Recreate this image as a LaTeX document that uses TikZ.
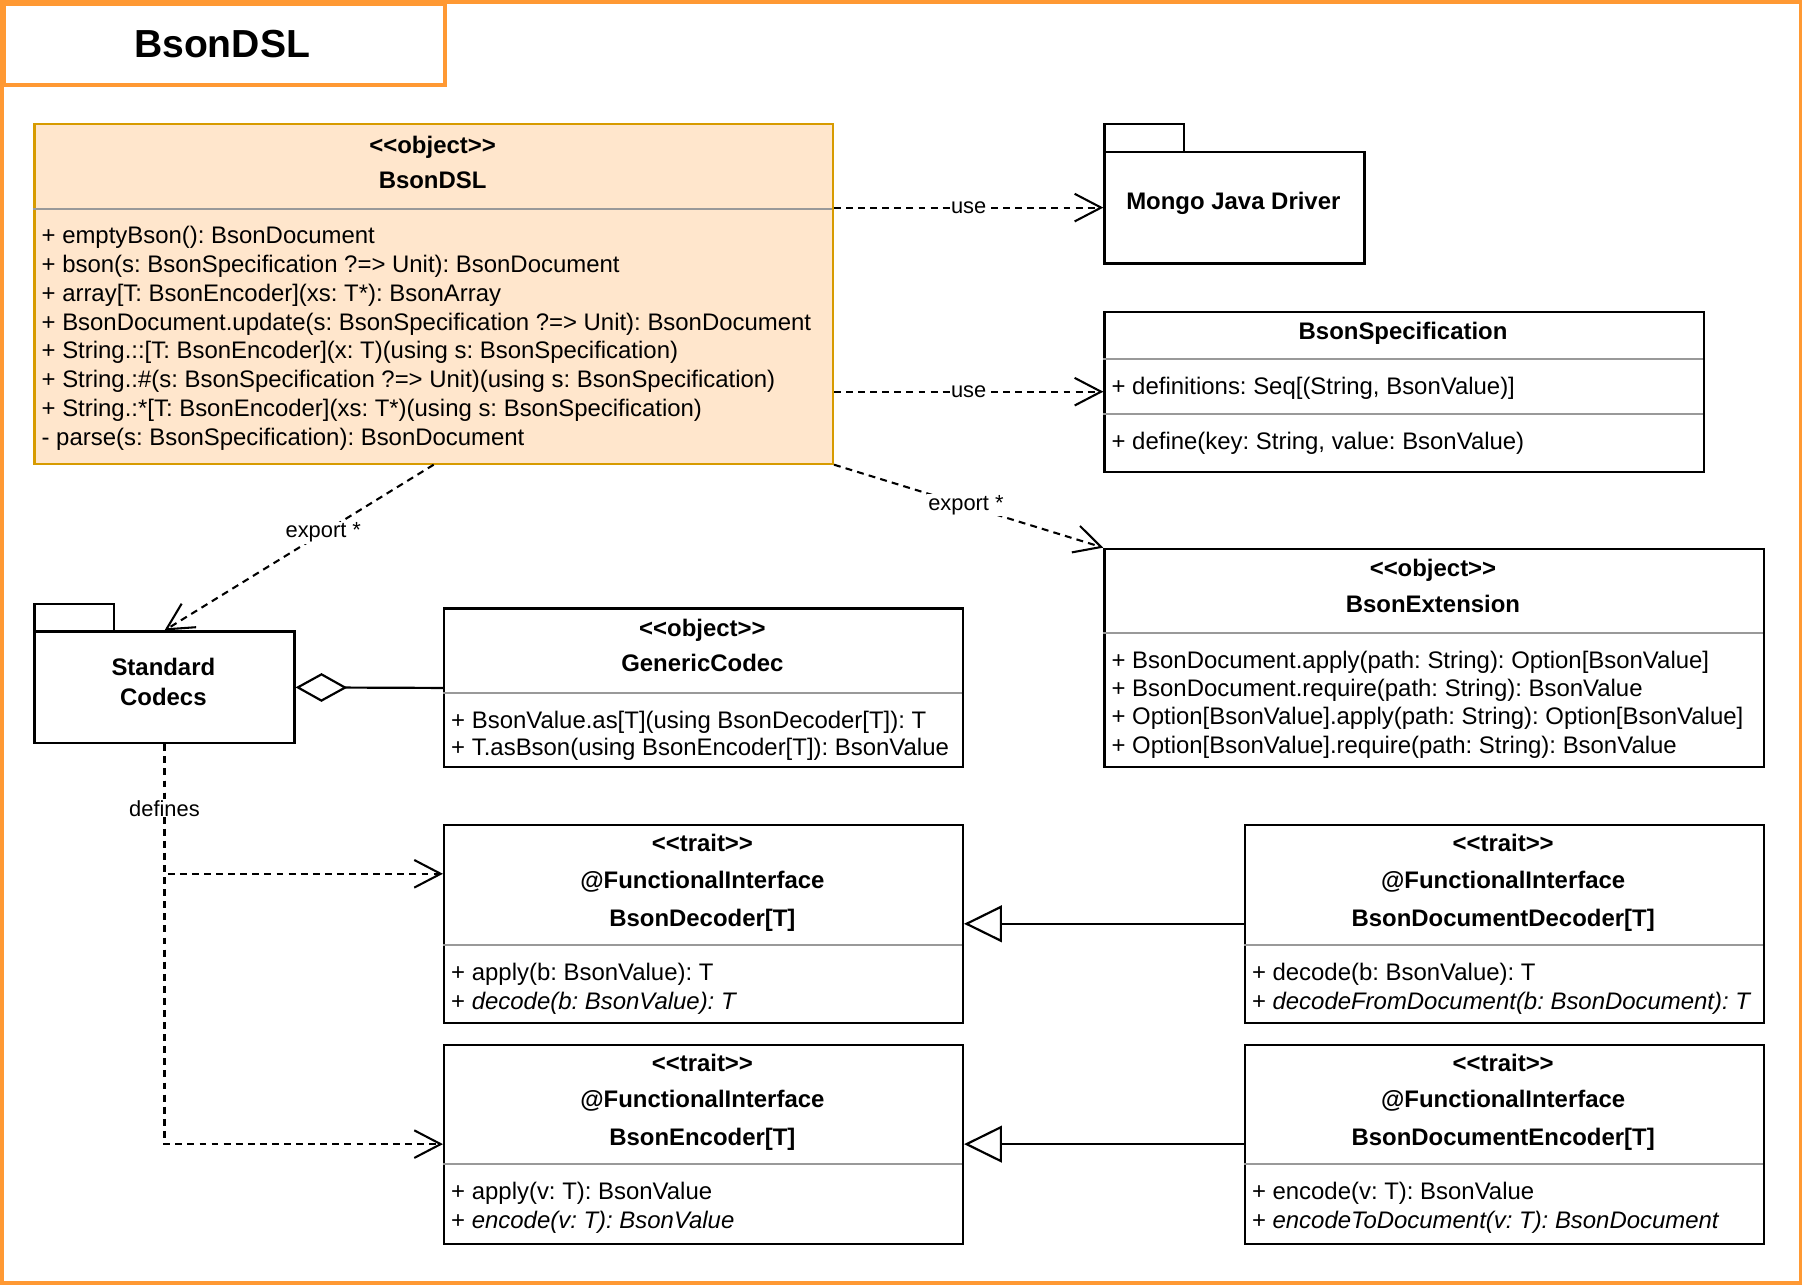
\documentclass[tikz,border=0pt]{standalone}
\usepackage{fontspec}
\setmainfont{Liberation Sans}
\usetikzlibrary{arrows.meta,calc}
\definecolor{frameor}{RGB}{255,153,51}
\definecolor{dslfill}{RGB}{255,230,204}
\definecolor{dslline}{RGB}{215,155,0}
\definecolor{sepgray}{RGB}{153,153,153}
\newcommand{\stlt}{<\kern0pt<}
\newcommand{\stgt}{>\kern0pt>}
\frenchspacing
\begin{document}
\frenchspacing
\begin{tikzpicture}[x=1pt,y=-1pt,
  clsbox/.style={draw=black, line width=1.9pt, fill=white, anchor=north west, inner sep=0pt},
  sepline/.style={draw=sepgray, line width=1.8pt},
  hd/.style={inner sep=0pt, anchor=base, font=\bfseries\fontsize{20.8}{25}\selectfont},
  mt/.style={inner sep=0pt, anchor=base west, font=\fontsize{20.8}{25}\selectfont},
  lbl/.style={fill=white, inner sep=1pt, font=\fontsize{19}{22}\selectfont},
  dep/.style={draw, line width=1.8pt, dash pattern=on 6pt off 4.5pt, -{Straight Barb[length=23pt,width=24pt,line width=1.8pt]}},
  gen/.style={draw, line width=1.9pt, -{Triangle[open,length=33pt,width=32pt,line width=1.9pt]}},
  agg/.style={draw, line width=1.9pt, {Diamond[open,length=45pt,width=25pt,line width=1.9pt]}-},
]
\useasboundingbox (0,0) rectangle (1568,1118);
\fill[white] (0,0) rectangle (1568,1118);

% outer frame
\draw[frameor, line width=3.2pt] (2,2) rectangle (1565,1115);
\node[draw=frameor, line width=3.2pt, anchor=north west, inner sep=0pt, minimum width=383pt, minimum height=70pt] (titlebox) at (2,2) {};
\node[inner sep=0pt, anchor=base, font=\bfseries\fontsize{34}{40}\selectfont] (title) at (193,50) {BsonDSL};

% BsonDSL object
\node[clsbox, draw=dslline, fill=dslfill, minimum width=694pt, minimum height=295pt] (dsl) at (29,107) {};
\draw[sepline] (29,182) -- (723,182);
\node[hd] (dslst) at (376,133) {\stlt object\stgt};
\node[hd] (dslnm) at (376,164) {BsonDSL};
\node[mt] (dsl1) at (36,212) {+ emptyBson(): BsonDocument};
\node[mt] (dsl2) at (36,237) {+ bson(s: BsonSpecification ?=> Unit): BsonDocument};
\node[mt] (dsl3) at (36,262) {+ array[T: BsonEncoder](xs: T*): BsonArray};
\node[mt] (dsl4) at (36,287) {+ BsonDocument.update(s: BsonSpecification ?=> Unit): BsonDocument};
\node[mt] (dsl5) at (36,312) {+ String.::[T: BsonEncoder](x: T)(using s: BsonSpecification)};
\node[mt] (dsl6) at (36,337) {+ String.:\#(s: BsonSpecification ?=> Unit)(using s: BsonSpecification)};
\node[mt] (dsl7) at (36,362) {+ String.:*[T: BsonEncoder](xs: T*)(using s: BsonSpecification)};
\node[mt] (dsl8) at (36,387) {- parse(s: BsonSpecification): BsonDocument};

% Mongo Java Driver package
\node[clsbox, minimum width=69pt, minimum height=24pt] (mongotab) at (959,107) {};
\node[clsbox, minimum width=226pt, minimum height=97pt] (mongo) at (959,131) {};
\node[hd] (mongotxt) at (1072,182) {Mongo Java Driver};

% BsonSpecification
\node[clsbox, minimum width=521pt, minimum height=139pt] (spec) at (959,270) {};
\draw[sepline] (959,312) -- (1480,312);
\draw[sepline] (959,360) -- (1480,360);
\node[hd] (specnm) at (1219.5,295) {BsonSpecification};
\node[mt] (spec1) at (966,343) {+ definitions: Seq[(String, BsonValue)]};
\node[mt] (spec2) at (966,391) {+ define(key: String, value: BsonValue)};

% BsonExtension
\node[clsbox, minimum width=573pt, minimum height=190pt] (bext) at (959,476) {};
\draw[sepline] (959,550) -- (1532,550);
\node[hd] (bextst) at (1245.5,501) {\stlt object\stgt};
\node[hd] (bextnm) at (1245.5,532) {BsonExtension};
\node[mt] (bext1) at (966,581) {+ BsonDocument.apply(path: String): Option[BsonValue]};
\node[mt] (bext2) at (966,605) {+ BsonDocument.require(path: String): BsonValue};
\node[mt] (bext3) at (966,630) {+ Option[BsonValue].apply(path: String): Option[BsonValue]};
\node[mt] (bext4) at (966,655) {+ Option[BsonValue].require(path: String): BsonValue};

% Standard Codecs package
\node[clsbox, minimum width=69pt, minimum height=24pt] (stdtab) at (29,524) {};
\node[clsbox, minimum width=226pt, minimum height=97pt] (std) at (29,548) {};
\node[hd] (stdtxt1) at (142,587) {Standard};
\node[hd] (stdtxt2) at (142,613) {Codecs};

% GenericCodec
\node[clsbox, minimum width=451pt, minimum height=138pt] (gc) at (385,528) {};
\draw[sepline] (385,602) -- (836,602);
\node[hd] (gcst) at (610.5,553) {\stlt object\stgt};
\node[hd] (gcnm) at (610.5,584) {GenericCodec};
\node[mt] (gc1) at (392,633) {+ BsonValue.as[T](using BsonDecoder[T]): T};
\node[mt] (gc2) at (392,657) {+ T.asBson(using BsonEncoder[T]): BsonValue};

% BsonDecoder
\node[clsbox, minimum width=451pt, minimum height=172pt] (bdec) at (385,716) {};
\draw[sepline] (385,821) -- (836,821);
\node[hd] (bdecst) at (610.5,740) {\stlt trait\stgt};
\node[hd] (bdecfi) at (610.5,772) {@FunctionalInterface};
\node[hd] (bdecnm) at (610.5,805) {BsonDecoder[T]};
\node[mt] (bdec1) at (392,852) {+ apply(b: BsonValue): T};
\node[mt] (bdec2) at (392,877) {+ \textit{decode(b: BsonValue): T}};

% BsonDocumentDecoder
\node[clsbox, minimum width=451pt, minimum height=172pt] (bddec) at (1081,716) {};
\draw[sepline] (1081,821) -- (1532,821);
\node[hd] (bddecst) at (1306.5,740) {\stlt trait\stgt};
\node[hd] (bddecfi) at (1306.5,772) {@FunctionalInterface};
\node[hd] (bddecnm) at (1306.5,805) {BsonDocumentDecoder[T]};
\node[mt] (bddec1) at (1088,852) {+ decode(b: BsonValue): T};
\node[mt] (bddec2) at (1088,877) {+ \textit{decodeFromDocument(b: BsonDocument): T}};

% BsonEncoder
\node[clsbox, minimum width=451pt, minimum height=173pt] (benc) at (385,907) {};
\draw[sepline] (385,1012) -- (836,1012);
\node[hd] (bencst) at (610.5,931) {\stlt trait\stgt};
\node[hd] (bencfi) at (610.5,963) {@FunctionalInterface};
\node[hd] (bencnm) at (610.5,996) {BsonEncoder[T]};
\node[mt] (benc1) at (392,1043) {+ apply(v: T): BsonValue};
\node[mt] (benc2) at (392,1068) {+ \textit{encode(v: T): BsonValue}};

% BsonDocumentEncoder
\node[clsbox, minimum width=451pt, minimum height=173pt] (bdenc) at (1081,907) {};
\draw[sepline] (1081,1012) -- (1532,1012);
\node[hd] (bdencst) at (1306.5,931) {\stlt trait\stgt};
\node[hd] (bdencfi) at (1306.5,963) {@FunctionalInterface};
\node[hd] (bdencnm) at (1306.5,996) {BsonDocumentEncoder[T]};
\node[mt] (bdenc1) at (1088,1043) {+ encode(v: T): BsonValue};
\node[mt] (bdenc2) at (1088,1068) {+ \textit{encodeToDocument(v: T): BsonDocument}};

% connectors
\draw[dep] (mongo.west -| dsl.east) -- (mongo.west) node[lbl, midway] (use1) {use};
\draw[dep] (spec.west -| dsl.east) -- (spec.west) node[lbl, midway] (use2) {use};
\draw[dep] (dsl.south) -- (std.north) node[lbl, pos=0.41] (exp1) {export *};
\draw[dep] (dsl.south east) -- (bext.north west) node[lbl, pos=0.49] (exp2) {export *};
\draw[agg] (std.east) -- (gc.west);
\draw[gen] (bddec.west) -- (bdec.east);
\draw[gen] (bdenc.west) -- (benc.west -| bdec.east);
\coordinate (decin) at ($(bdec.north west)!0.25!(bdec.south west)$);
\draw[dep] (std.south) |- (decin);
\draw[dep] (std.south) |- (benc.west) node[lbl, pos=0.08] (defl) {defines};
\end{tikzpicture}
\end{document}
